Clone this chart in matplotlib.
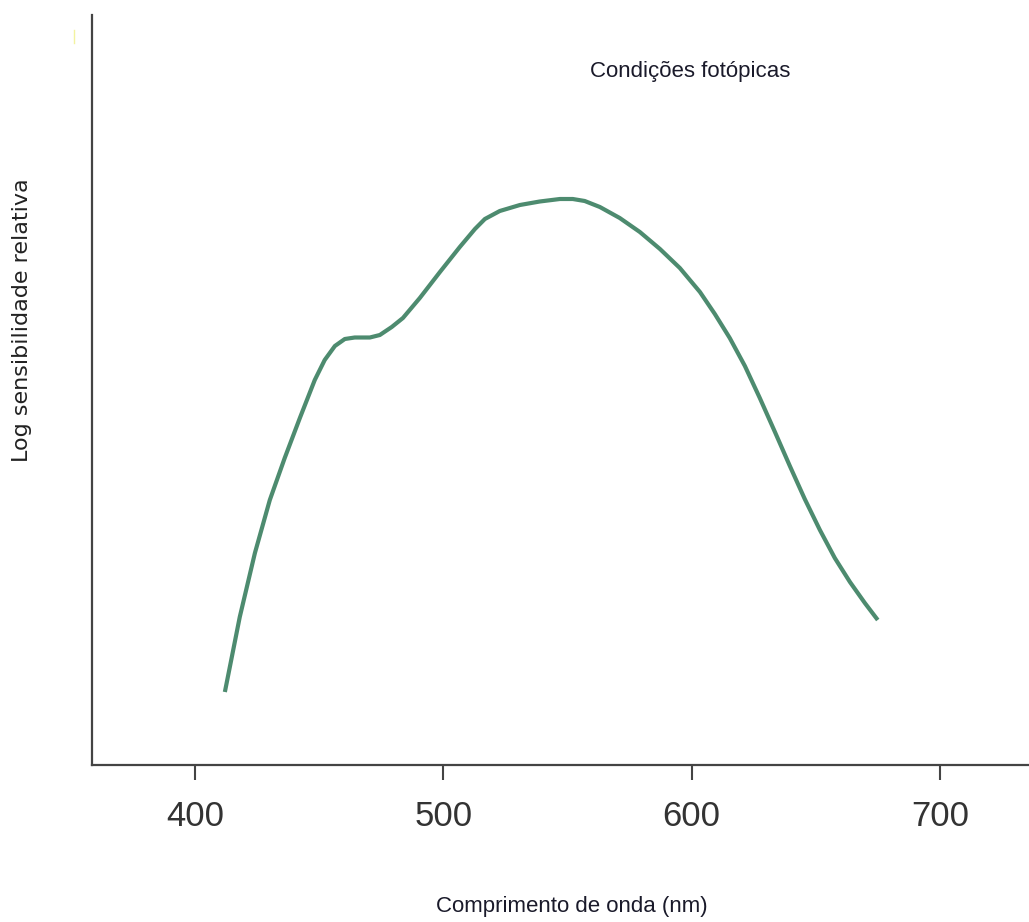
import matplotlib
matplotlib.use('Agg')
import matplotlib.pyplot as plt
from matplotlib.lines import Line2D

# photopic sensitivity curve
comprimento = [412.1, 418.1, 424.2, 430.2, 436.2, 442.3, 448.3, 452.3, 456.4,
               460.4, 464.4, 470.5, 474.5, 479.3, 483.8, 490.6, 498.7, 506.7,
               512.8, 516.8, 522.8, 530.9, 538.9, 547.0, 552.2, 557.0, 563.1,
               571.1, 579.2, 587.3, 595.3, 603.4, 609.4, 615.4, 621.5, 627.5,
               633.6, 639.6, 645.6, 651.7, 657.7, 663.8, 669.8, 675.0]
sensibilidade = [0.73, 1.48, 2.12, 2.65, 3.07, 3.47, 3.85, 4.05, 4.19,
                 4.26, 4.275, 4.275, 4.30, 4.38, 4.47, 4.67, 4.93, 5.18,
                 5.36, 5.46, 5.54, 5.60, 5.635, 5.66, 5.66, 5.64, 5.58,
                 5.47, 5.33, 5.16, 4.97, 4.73, 4.51, 4.27, 3.99, 3.67,
                 3.33, 2.99, 2.66, 2.35, 2.07, 1.83, 1.62, 1.45]
xticks = [400, 500, 600, 700]

W, H = 1029, 922
fig = plt.figure(figsize=(W / 100, H / 100), dpi=100)
ax = fig.add_axes([92 / W, 1 - 765 / H, 1 - 92 / W, (765 - 15) / H])

ax.plot(comprimento, sensibilidade, color='#4d8b6f', lw=3,
        solid_capstyle='butt', solid_joinstyle='round')

ax.set_xlim(358.6, 735.9)
ax.set_ylim(0, 7.5)
ax.set_xticks(xticks)
ax.set_yticks([])
for s in ['top', 'right']:
    ax.spines[s].set_visible(False)
for s in ['left', 'bottom']:
    ax.spines[s].set_color('#444444')
    ax.spines[s].set_linewidth(1.6)
ax.tick_params(axis='x', direction='out', length=11, width=1.5, color='#444444',
               pad=14, labelsize=25, labelcolor='#333333')
for lbl in ax.get_xticklabels():
    lbl.set_family(['Liberation Sans', 'DejaVu Sans'])

def px(x, y):
    return x / W, 1 - y / H

fonte = ['Liberation Sans', 'DejaVu Sans']
fig.text(*px(690, 71), 'Condições fotópicas', ha='center', va='center',
         fontsize=16, family=fonte, color='#1a1a2a')
fig.text(*px(572, 906), 'Comprimento de onda (nm)', ha='center', va='center',
         fontsize=16, family=fonte, color='#1a1a2a')
fig.text(*px(22, 320), 'Log sensibilidade relativa', ha='center', va='center',
         rotation=90, fontsize=16, family='DejaVu Sans', color='#222222')

# faint yellow mark in the corner of the original
fig.add_artist(Line2D([74 / W, 74 / W], [1 - 30 / H, 1 - 43 / H],
                      color='#f3f3a0', lw=1))

fig.savefig('out.png', dpi=100)
